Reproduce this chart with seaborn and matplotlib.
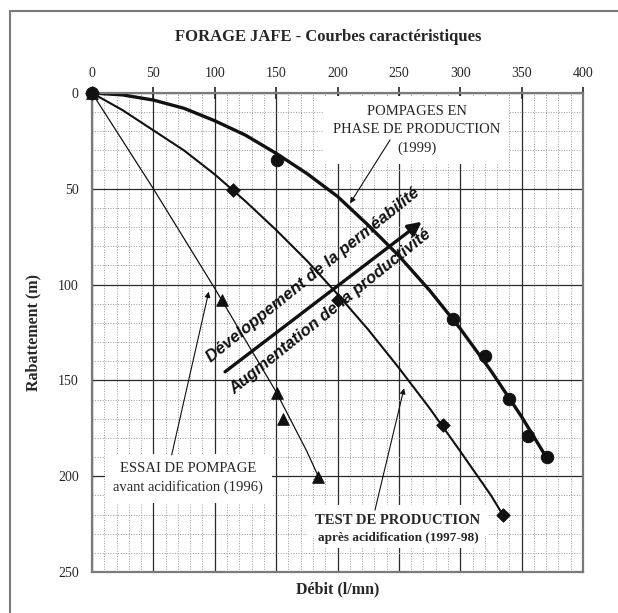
import numpy as np
import pandas as pd
import matplotlib
matplotlib.use("Agg")
import matplotlib.pyplot as plt
from matplotlib.lines import Line2D
import seaborn as sns

# points mesurés (débit l/mn, rabattement m)
q_1999 = [0, 150.5, 294.3, 320.2, 339.7, 354.9, 370.4]
s_1999 = [0, 35.0, 118.0, 137.3, 159.9, 178.9, 189.8]
q_9798 = [0, 114.6, 200.7, 285.7, 335.1]
s_9798 = [0, 50.6, 108.0, 173.3, 220.3]
q_1996 = [0, 105.7, 150.5, 155.8, 184.4]
s_1996 = [0, 108.0, 156.7, 170.3, 200.3]

# courbes caractéristiques
cq_1999 = [0, 25, 50, 75, 100, 125, 150, 175, 200, 225, 250, 275, 300, 325, 350, 370]
cs_1999 = [0, 1, 3.7, 8, 14.5, 22, 31.5, 42, 54, 69, 85, 103, 123, 145, 169, 190]
cq_9798 = [0, 25, 50, 75, 100, 125, 150, 175, 200, 225, 250, 275, 300, 325, 335]
cs_9798 = [0, 9, 19.5, 30, 42.5, 56.5, 71.5, 87.5, 105, 123.5, 143.5, 164.5, 187, 210, 220.5]
cq_1996 = [0, 25, 50, 75, 100, 125, 150, 175, 185]
cs_1996 = [0, 25, 50, 76, 102, 129, 156, 187, 201]

x_ticks = [0, 50, 100, 150, 200, 250, 300, 350, 400]
y_ticks = [0, 50, 100, 150, 200, 250]

sns.set_style("white")
plt.rcParams['font.family'] = ['Liberation Serif', 'DejaVu Serif']

fig = plt.figure(figsize=(6.18, 6.13), dpi=100)
ax = fig.add_axes([0.1489, 0.0669, 0.7945, 0.7814])

# grille
ax.set_xticks(np.arange(0, 401, 10), minor=True)
ax.set_yticks(np.arange(0, 251, 10), minor=True)
ax.grid(which='minor', color='#9a9a9a', linestyle=':', linewidth=0.7, zorder=0)
ax.grid(which='major', color='#2a2a2a', linestyle='-', linewidth=0.9, zorder=0)
ax.set_axisbelow(True)

sns.lineplot(x=cq_1999, y=cs_1999, sort=False, estimator=None, color='#111111', lw=2.4, ax=ax)
sns.lineplot(x=cq_9798, y=cs_9798, sort=False, estimator=None, color='#111111', lw=1.5, ax=ax)
sns.lineplot(x=cq_1996, y=cs_1996, sort=False, estimator=None, color='#111111', lw=0.9, ax=ax)

sns.scatterplot(x=q_9798, y=s_9798, marker='D', s=48, color='#111111', edgecolor='#111111', ax=ax, zorder=4)
sns.scatterplot(x=q_1996, y=s_1996, marker='^', s=70, color='#111111', edgecolor='#111111', ax=ax, zorder=4)
sns.scatterplot(x=q_1999, y=s_1999, marker='o', s=80, color='#111111', edgecolor='#111111', ax=ax, zorder=4)
for coll in ax.collections:
    coll.set_clip_on(False)

ax.set_xlim(0, 400)
ax.set_ylim(250, 0)
ax.xaxis.tick_top()
ax.set_xticks(x_ticks)
ax.set_yticks(y_ticks)
ax.set_xticklabels([str(v) for v in x_ticks])
ax.set_yticklabels([str(v) for v in y_ticks])
ax.tick_params(which='major', direction='inout', length=9, width=1.2, color='#222222',
               labelsize=10, pad=5)
ax.tick_params(which='minor', length=0)
ax.xaxis.set_label_position('bottom')
ax.set_xlabel("Débit (l/mn)", fontsize=11.5, fontweight='bold', labelpad=7)
ax.set_ylabel("Rabattement (m)", fontsize=11.5, fontweight='bold', labelpad=12)
for sp in ax.spines.values():
    sp.set_visible(True)
    sp.set_color('#7a7a7a')
    sp.set_linewidth(1.6)

# annotations
arr = dict(arrowstyle='-|>', color='#111111', lw=0.8, mutation_scale=8, shrinkA=0, shrinkB=0)
ax.text(264.5, 19.3, "POMPAGES EN\nPHASE DE PRODUCTION\n(1999)", ha='center', va='center',
        fontsize=10.5, linespacing=1.55, zorder=6,
        bbox=dict(boxstyle='square,pad=0.6', fc='white', ec='none'))
ax.annotate("", xy=(210.2, 57.6), xytext=(242.8, 24.5), arrowprops=arr, zorder=7)

ax.text(78.4, 201.1, "ESSAI DE POMPAGE\navant acidification (1996)", ha='center', va='center',
        fontsize=10.5, linespacing=1.45, zorder=6,
        bbox=dict(boxstyle='square,pad=0.6', fc='white', ec='none'))
ax.annotate("", xy=(95.1, 103.7), xytext=(64.9, 188.9), arrowprops=arr, zorder=7)

ax.text(249.3, 223, "TEST DE PRODUCTION", ha='center', va='center', fontsize=10.5,
        fontweight='bold', zorder=6,
        bbox=dict(boxstyle='square,pad=0.6', fc='white', ec='none'))
ax.text(249.3, 232.5, "après acidification (1997-98)", ha='center', va='center', fontsize=9.5,
        fontweight='bold', zorder=6,
        bbox=dict(boxstyle='square,pad=0.3', fc='white', ec='none'))
ax.annotate("", xy=(254.2, 154.1), xytext=(230.5, 217.7), arrowprops=arr, zorder=7)

# grande flèche
ax.annotate("", xy=(268.6, 67.2), xytext=(108.4, 145.5),
            arrowprops=dict(arrowstyle='-|>', color='#111111', lw=2.4, mutation_scale=20,
                            shrinkA=0, shrinkB=0), zorder=5)
sans = ['Liberation Sans', 'DejaVu Sans']
ax.text(180, 95, "Développement de la perméabilité", rotation=38.8, rotation_mode='anchor',
        ha='center', va='center', fontsize=12, fontweight='bold', fontstyle='italic',
        family=sans, color='#111111', zorder=6)
ax.text(194, 114, "Augmentation de la productivité", rotation=38.8, rotation_mode='anchor',
        ha='center', va='center', fontsize=12, fontweight='bold', fontstyle='italic',
        family=sans, color='#111111', zorder=6)

fig.text(328 / 618, 1 - 37 / 613, "FORAGE JAFE - Courbes caractéristiques", ha='center',
         va='center', fontsize=12, fontweight='bold')

# cadre extérieur
fig.add_artist(Line2D([10 / 618, 10 / 618], [0, 1 - 11 / 613], color='#7a7a7a', lw=1.5))
fig.add_artist(Line2D([10 / 618, 1], [1 - 11 / 613, 1 - 11 / 613], color='#7a7a7a', lw=1.5))

fig.savefig("out.png", dpi=100)
